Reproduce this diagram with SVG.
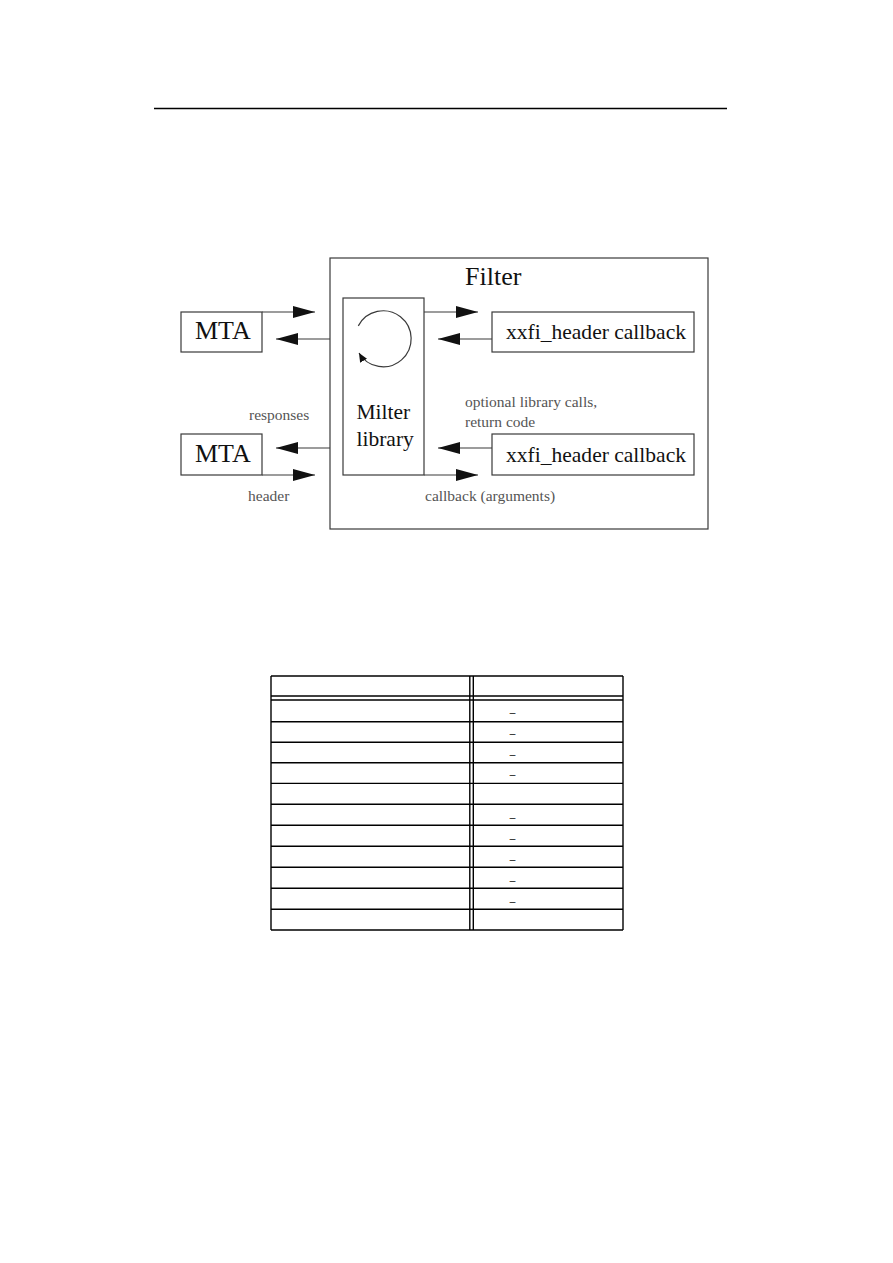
<svg xmlns="http://www.w3.org/2000/svg" width="893" height="1263" viewBox="0 0 893 1263">
<style>
.box{fill:none;stroke:#3a3a3a;stroke-width:1.2}
.con{stroke:#3a3a3a;stroke-width:1.2;fill:none}
.big{font-family:"Liberation Serif",serif;fill:#111}
.lbl{font-family:"Liberation Serif",serif;fill:#555;font-size:15.5px}
.tl{stroke:#000;stroke-width:1.4;fill:none}
.us{font-family:"Liberation Sans",sans-serif;font-size:10px;fill:#000}
</style>
<defs>
<marker id="ah" markerUnits="userSpaceOnUse" markerWidth="24" markerHeight="14" refX="22" refY="6" orient="auto">
<path d="M0,0 L22,6 L0,12 Z" fill="#111"/>
</marker>
<marker id="ahs" markerUnits="userSpaceOnUse" markerWidth="12" markerHeight="10" refX="9" refY="4" orient="auto">
<path d="M0,0 L9,4 L0,8 Z" fill="#111"/>
</marker>
</defs>
<rect width="893" height="1263" fill="#fff"/>
<line x1="154" y1="108.5" x2="727" y2="108.5" stroke="#000" stroke-width="1.3"/>

<g id="filter">
<rect class="box" x="330" y="258" width="378" height="271"/>
<text class="big" x="465" y="285" font-size="26">Filter</text>
</g>
<g id="milter">
<rect class="box" x="343" y="298" width="81" height="177"/>
<path class="con" d="M358.3,325.9 A28 28 0 1 1 359,353" marker-end="url(#ahs)"/>
<text class="big" x="356.5" y="419" font-size="21.5">Milter</text>
<text class="big" x="356.5" y="446" font-size="21.5">library</text>
</g>
<g id="mta1">
<rect class="box" x="181" y="312" width="81" height="40"/>
<text class="big" x="195" y="339.3" font-size="26">MTA</text>
</g>
<g id="mta2">
<rect class="box" x="181" y="434" width="81" height="41"/>
<text class="big" x="195" y="461.7" font-size="26">MTA</text>
</g>
<g id="cb1">
<rect class="box" x="492" y="312" width="202" height="40"/>
<text class="big" x="506" y="339.3" font-size="22" textLength="180" lengthAdjust="spacingAndGlyphs">xxfi_header callback</text>
</g>
<g id="cb2">
<rect class="box" x="492" y="434" width="202" height="41"/>
<text class="big" x="506" y="461.7" font-size="22" textLength="180" lengthAdjust="spacingAndGlyphs">xxfi_header callback</text>
</g>

<g id="connectors">
<line class="con" x1="262" y1="312" x2="315" y2="312" marker-end="url(#ah)"/>
<line class="con" x1="330" y1="339" x2="276" y2="339" marker-end="url(#ah)"/>
<line class="con" x1="424" y1="312" x2="478" y2="312" marker-end="url(#ah)"/>
<line class="con" x1="492" y1="339" x2="438" y2="339" marker-end="url(#ah)"/>
<line class="con" x1="330" y1="448" x2="276" y2="448" marker-end="url(#ah)"/>
<line class="con" x1="262" y1="475" x2="315" y2="475" marker-end="url(#ah)"/>
<line class="con" x1="492" y1="448" x2="438" y2="448" marker-end="url(#ah)"/>
<line class="con" x1="424" y1="475" x2="478" y2="475" marker-end="url(#ah)"/>
<text class="lbl" x="249" y="420">responses</text>
<text class="lbl" x="248" y="500.5">header</text>
<text class="lbl" x="425" y="500.5">callback (arguments)</text>
<text class="lbl" x="465" y="407">optional library calls,</text>
<text class="lbl" x="465" y="426.5">return code</text>
</g>

<g id="table">
<line class="tl" x1="271" y1="676" x2="623" y2="676"/>
<line class="tl" x1="271" y1="696" x2="623" y2="696"/>
<line class="tl" x1="271" y1="700" x2="623" y2="700"/>
<line class="tl" x1="271" y1="721.7" x2="623" y2="721.7"/>
<line class="tl" x1="271" y1="742.3" x2="623" y2="742.3"/>
<line class="tl" x1="271" y1="762.8" x2="623" y2="762.8"/>
<line class="tl" x1="271" y1="783.4" x2="623" y2="783.4"/>
<line class="tl" x1="271" y1="804.3" x2="623" y2="804.3"/>
<line class="tl" x1="271" y1="825.3" x2="623" y2="825.3"/>
<line class="tl" x1="271" y1="846.3" x2="623" y2="846.3"/>
<line class="tl" x1="271" y1="867.3" x2="623" y2="867.3"/>
<line class="tl" x1="271" y1="888.3" x2="623" y2="888.3"/>
<line class="tl" x1="271" y1="909.3" x2="623" y2="909.3"/>
<line class="tl" x1="271" y1="930" x2="623" y2="930"/>
<line class="tl" x1="271" y1="676" x2="271" y2="930"/>
<line class="tl" x1="623" y1="676" x2="623" y2="930"/>
<line class="tl" x1="469.8" y1="676" x2="469.8" y2="930"/>
<line class="tl" x1="473.3" y1="676" x2="473.3" y2="930"/>
<text class="us" x="509.8" y="712.3">_</text>
<text class="us" x="509.8" y="733">_</text>
<text class="us" x="509.8" y="753.6">_</text>
<text class="us" x="509.8" y="774.2">_</text>
<text class="us" x="509.8" y="816.6">_</text>
<text class="us" x="509.8" y="837.6">_</text>
<text class="us" x="509.8" y="858.6">_</text>
<text class="us" x="509.8" y="879.6">_</text>
<text class="us" x="509.8" y="900.6">_</text>
</g>
</svg>
